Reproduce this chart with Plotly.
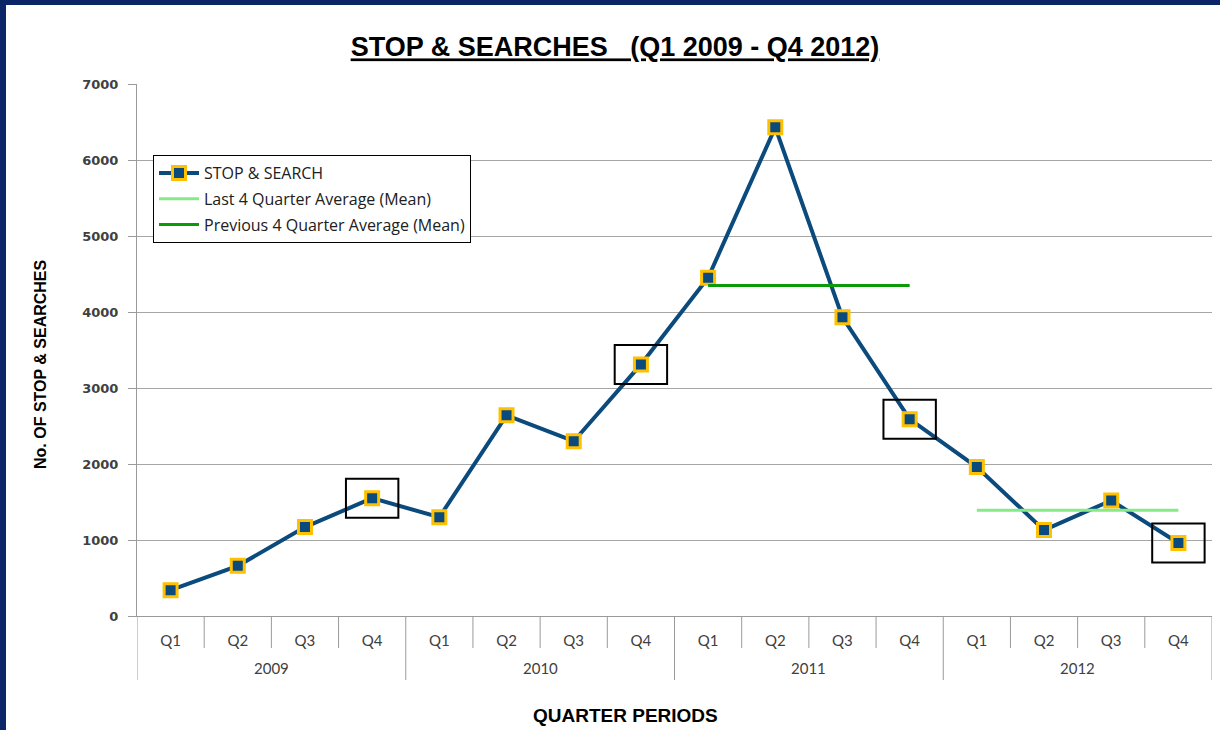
import plotly.graph_objects as go
import numpy as np

year_labels = ["2009", "2010", "2011", "2012"]
quarter_labels = ["Q1", "Q2", "Q3", "Q4"]
quarters = quarter_labels * 4
stop_search = [340, 660, 1170, 1550, 1300, 2640, 2300, 3310,
               4450, 6430, 3930, 2590, 1960, 1130, 1520, 960]
highlight_idx = [3, 7, 11, 15]
y_ticks = [0, 1000, 2000, 3000, 4000, 5000, 6000, 7000]

n = len(stop_search)
xs = list(range(n))
prev_idx = list(range(8, 12))
last_idx = list(range(12, 16))
prev_avg = float(np.mean([stop_search[i] for i in prev_idx]))
last_avg = float(np.mean([stop_search[i] for i in last_idx]))

W, H = 1220, 730
ML, MR, MT, MB = 137, 8, 84, 114
PW = W - ML - MR
PH = H - MT - MB

def px_x(p):
    return (p - ML) / PW

def px_y(p):
    return (H - MB - p) / PH

fig = go.Figure()

fig.add_trace(go.Scatter(
    x=xs, y=stop_search,
    mode="lines+markers", name="STOP & SEARCH", legendrank=1,
    legendgroup="a",
    line=dict(color="#0b4a7c", width=4),
    marker=dict(symbol="square", size=13, color="#0b4a7c",
                line=dict(color="#ffc000", width=3)),
))
fig.add_trace(go.Scatter(
    x=last_idx, y=[last_avg] * len(last_idx),
    mode="lines", name="Last 4 Quarter Average (Mean)", legendrank=2,
    legendgroup="b",
    line=dict(color="#86ea86", width=3),
))
fig.add_trace(go.Scatter(
    x=prev_idx, y=[prev_avg] * len(prev_idx),
    mode="lines", name="Previous 4 Quarter Average (Mean)", legendrank=3,
    legendgroup="c",
    line=dict(color="#0a9a0a", width=3),
))

# highlight boxes around Q4 points
for i in highlight_idx:
    fig.add_shape(type="rect", xref="x", yref="y",
                  x0=i - 0.39, x1=i + 0.39,
                  y0=stop_search[i] - 257, y1=stop_search[i] + 257,
                  line=dict(color="black", width=2), fillcolor="rgba(0,0,0,0)")

axis_grey = "#9a9a9a"
# quarter boundary ticks and year dividers
for b in range(n + 1):
    is_year = (b % 4 == 0)
    fig.add_shape(type="line", xref="x", yref="paper",
                  x0=b - 0.5, x1=b - 0.5, y0=0, y1=px_y(680 if is_year else 648),
                  line=dict(color=axis_grey, width=1))

annotations = []
for k, yl in enumerate(year_labels):
    annotations.append(dict(text=yl, xref="x", yref="paper", x=4 * k + 1.5, y=px_y(668),
                            xanchor="center", yanchor="middle", showarrow=False,
                            font=dict(family="Lato, sans-serif", size=15, color="#404040")))

# frame border (navy) left and top
navy = "#0b2566"
fig.add_shape(type="line", xref="paper", yref="paper",
              x0=px_x(3), x1=px_x(3), y0=px_y(H), y1=px_y(0),
              line=dict(color=navy, width=6))
fig.add_shape(type="line", xref="paper", yref="paper",
              x0=px_x(0), x1=px_x(W), y0=px_y(2.5), y1=px_y(2.5),
              line=dict(color=navy, width=5))

annotations += [
    dict(text="<b>No. OF STOP &amp; SEARCHES</b>", textangle=-90,
         xref="paper", yref="paper", x=px_x(40), y=px_y(364),
         xanchor="center", yanchor="middle", showarrow=False,
         font=dict(family="Liberation Sans, Arial", size=16, color="black")),
    dict(text="<b>QUARTER PERIODS</b>",
         xref="paper", yref="paper", x=px_x(625), y=px_y(715),
         xanchor="center", yanchor="middle", showarrow=False,
         font=dict(family="Liberation Sans, Arial", size=19, color="black")),
]

fig.update_layout(
    width=W, height=H,
    margin=dict(l=ML, r=MR, t=MT, b=MB),
    paper_bgcolor="white", plot_bgcolor="white",
    font=dict(family="Lato, Open Sans, sans-serif", color="#404040"),
    title=dict(text="<b><u>STOP &amp; SEARCHES   (Q1 2009 - Q4 2012)</u></b>",
               x=615 / W, xanchor="center", y=1 - 47 / H, yanchor="middle",
               yref="container", xref="container",
               font=dict(family="Liberation Sans, Arial", size=27, color="black")),
    showlegend=True,
    legend=dict(x=px_x(153), y=px_y(155), xanchor="left", yanchor="top",
                bordercolor="black", borderwidth=1, bgcolor="white",
                traceorder="grouped", tracegroupgap=2,
                font=dict(family="Open Sans, sans-serif", size=16, color="#202020"),
                itemwidth=40),
    xaxis=dict(
        range=[-0.5, n - 0.5],
        tickvals=xs, ticktext=quarters,
        showgrid=False, zeroline=False,
        showline=True, linecolor=axis_grey, linewidth=1,
        ticks="", ticklabelstandoff=11,
        tickfont=dict(family="Lato, sans-serif", size=15, color="#404040"),
    ),
    yaxis=dict(
        range=[0, 7000], tickvals=y_ticks,
        showgrid=True, gridcolor="#a6a6a6", gridwidth=1,
        showline=True, linecolor=axis_grey, linewidth=1,
        ticks="outside", ticklen=8, tickcolor=axis_grey,
        ticklabelstandoff=7,
        tickfont=dict(family="DejaVu Sans", size=13, color="#404040", weight="bold"),
        zeroline=False,
    ),
    annotations=annotations,
)

fig.write_html("out.html", config={"displayModeBar": False},
               post_script="document.body.style.margin='0';document.body.style.padding='0';")
